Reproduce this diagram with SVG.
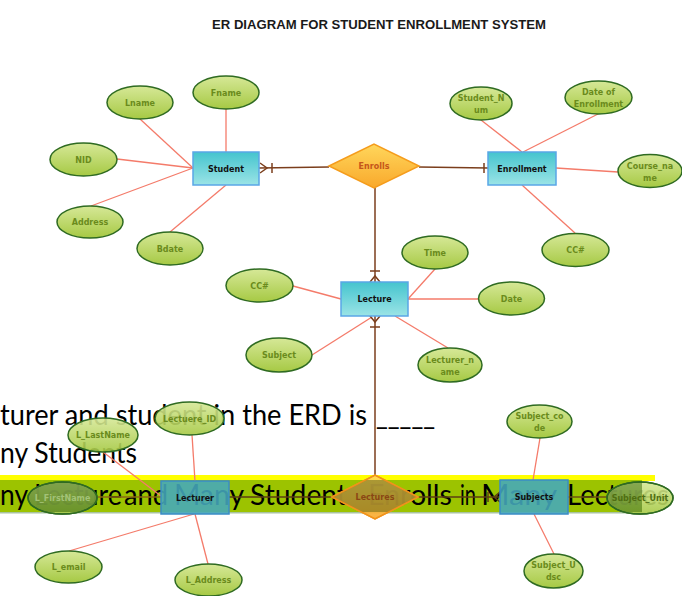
<svg xmlns="http://www.w3.org/2000/svg" width="682" height="596" viewBox="0 0 682 596">
<defs>
<linearGradient id="gEll" x1="0" y1="0" x2="0" y2="1"><stop offset="0" stop-color="#d6e897"/><stop offset="1" stop-color="#a6c944"/></linearGradient>
<linearGradient id="gRect" x1="0" y1="0" x2="0" y2="1"><stop offset="0" stop-color="#45c4ce"/><stop offset="1" stop-color="#9be4e6"/></linearGradient>
<linearGradient id="gDia" x1="0" y1="0" x2="0" y2="1"><stop offset="0" stop-color="#ffd75c"/><stop offset="1" stop-color="#f9a82b"/></linearGradient>
<clipPath id="cFirst"><ellipse cx="62.5" cy="498" rx="34.5" ry="16"/></clipPath>
<clipPath id="cUnit"><ellipse cx="640" cy="498" rx="33" ry="16"/></clipPath>
<clipPath id="cLect"><polygon points="332,497 375,475 418,497 375,519"/></clipPath>
<style>
.ell{fill:url(#gEll);stroke:#2f6b22;stroke-width:1.5}
.rect{fill:url(#gRect);stroke:#5aa6e6;stroke-width:1.5}
.dia{fill:url(#gDia);stroke:#f59c1c;stroke-width:1.5}
.el{font-family:"DejaVu Sans",Verdana,sans-serif;font-weight:bold;font-size:8px;fill:#6a8b1c;text-anchor:middle}
.rl{font-family:"DejaVu Sans",Verdana,sans-serif;font-weight:bold;font-size:8px;fill:#111;text-anchor:middle}
.dl{font-family:"DejaVu Sans",Verdana,sans-serif;font-weight:bold;font-size:8px;fill:#c5561a;text-anchor:middle}
.attr{stroke:#f47b6a;stroke-width:1.3;fill:none}
.rel{stroke:#7b3e1c;stroke-width:1.5;fill:none}
.reld{stroke:#5c3e12;stroke-width:1.5;fill:none}
.slide{font-family:Lato,"Open Sans",sans-serif;font-size:28px;fill:#000}
.fade{fill-opacity:0.9}
.brect{fill:#44a8bd;fill-opacity:0.88;stroke:#3a8cc6;stroke-width:1.5}
</style>
</defs>
<rect x="0" y="0" width="682" height="596" fill="#ffffff"/>
<text x="212" y="29" font-family="Liberation Sans, Arial, sans-serif" font-weight="bold" font-size="13" fill="#1a1a1a" textLength="334" lengthAdjust="spacingAndGlyphs">ER DIAGRAM FOR STUDENT ENROLLMENT SYSTEM</text>

<g id="slide">
<rect x="0" y="475" width="655" height="6" fill="#ffff00"/>
<rect x="0" y="480" width="642" height="32" fill="#9cc300"/>
<rect x="0" y="512" width="642" height="1.5" fill="#a9c3a0"/>
<text class="slide" x="0" y="425" textLength="367" lengthAdjust="spacingAndGlyphs">turer and student in the ERD is</text>
<text class="slide" x="376" y="425" textLength="59" lengthAdjust="spacingAndGlyphs">_____</text>
<text class="slide" x="0" y="463" textLength="137" lengthAdjust="spacingAndGlyphs">ny Students</text>
<text class="slide" x="0" y="505" textLength="28" lengthAdjust="spacingAndGlyphs">ny</text>
<text class="slide" x="34" y="505" textLength="88" lengthAdjust="spacingAndGlyphs">Lecture</text>
<text class="slide" x="124" y="505" textLength="44" lengthAdjust="spacingAndGlyphs">and</text>
<text class="slide" x="174" y="505" textLength="70" lengthAdjust="spacingAndGlyphs">Many</text>
<text class="slide" x="250" y="505" textLength="97" lengthAdjust="spacingAndGlyphs">Student</text>
<text class="slide" x="368" y="505" textLength="84" lengthAdjust="spacingAndGlyphs">Enrolls</text>
<text class="slide" x="460" y="505" textLength="16" lengthAdjust="spacingAndGlyphs">in</text>
<text class="slide" x="481" y="505" textLength="76" lengthAdjust="spacingAndGlyphs">Many</text>
<text class="slide" x="567" y="505" textLength="102" lengthAdjust="spacingAndGlyphs">Lectures</text>
</g>

<g id="connectors">
<line class="attr" x1="226" y1="109" x2="226" y2="152"/>
<line class="attr" x1="140" y1="119" x2="193" y2="168"/>
<line class="attr" x1="117" y1="159" x2="193" y2="168"/>
<line class="attr" x1="91" y1="206" x2="193" y2="168"/>
<line class="attr" x1="170" y1="232" x2="226" y2="185"/>
<line class="attr" x1="481" y1="120" x2="522" y2="152"/>
<line class="attr" x1="598" y1="114" x2="523" y2="152"/>
<line class="attr" x1="556" y1="168" x2="618" y2="172"/>
<line class="attr" x1="522" y1="185" x2="575" y2="233"/>
<line class="attr" x1="435" y1="269" x2="408" y2="299"/>
<line class="attr" x1="408" y1="299" x2="478" y2="299"/>
<line class="attr" x1="293" y1="286" x2="341" y2="299"/>
<line class="attr" x1="312" y1="355" x2="372" y2="317"/>
<line class="attr" x1="395" y1="316" x2="448" y2="348"/>
<line class="attr" x1="192" y1="435" x2="195" y2="481"/>
<line class="attr" x1="103" y1="452" x2="161" y2="496"/>
<line class="attr" x1="194" y1="514" x2="69" y2="551"/>
<line class="attr" x1="195" y1="514" x2="208" y2="564"/>
<line class="attr" x1="540" y1="438" x2="533" y2="480"/>
<line class="attr" x1="534" y1="514" x2="554" y2="554"/>
<line x1="97" y1="497" x2="161" y2="497" stroke="#8c6a12" stroke-width="1.5"/>
<line x1="568" y1="497" x2="607" y2="497" stroke="#6e5512" stroke-width="1.5"/>
<line class="rel" x1="259" y1="168" x2="329" y2="167"/>
<polyline class="rel" points="260,163 267,168 260,173"/>
<line class="rel" x1="272" y1="163" x2="272" y2="173"/>
<line class="rel" x1="419" y1="167" x2="488" y2="168"/>
<line class="rel" x1="484" y1="163" x2="484" y2="173"/>
<line class="rel" x1="375" y1="188" x2="375" y2="282"/>
<line class="rel" x1="370" y1="271" x2="380" y2="271"/>
<polyline class="rel" points="370,282 375,276 380,282"/>
<line class="rel" x1="375" y1="316" x2="375" y2="475"/>
<polyline class="rel" points="370,316 375,322 380,316"/>
<line class="rel" x1="370" y1="327" x2="380" y2="327"/>
<line class="reld" x1="229" y1="497" x2="332" y2="497"/>
<line class="reld" x1="418" y1="497" x2="500" y2="497"/>
<line class="reld" x1="488" y1="492" x2="488" y2="502"/>
<polyline class="reld" points="500,492 494,497 500,502"/>
</g>

<g id="Student"><rect class="rect" x="193" y="152" width="66" height="33"/><text class="rl" x="226" y="171.5">Student</text></g>
<g id="Enrolls"><polygon class="dia" points="329,166 374,144 419,166 374,188"/><text class="dl" x="374" y="169">Enrolls</text></g>
<g id="Enrollment"><rect class="rect" x="488" y="152" width="68" height="33"/><text class="rl" x="522" y="171.5">Enrollment</text></g>
<g id="Lecture"><rect class="rect" x="341" y="282" width="67" height="34"/><text class="rl" x="374.5" y="302">Lecture</text></g>

<g id="Fname"><ellipse class="ell" cx="226" cy="92.5" rx="33" ry="16.5"/><text class="el" x="226" y="95.5">Fname</text></g>
<g id="Lname"><ellipse class="ell" cx="140" cy="102.5" rx="33" ry="16.5"/><text class="el" x="140" y="105.5">Lname</text></g>
<g id="NID"><ellipse class="ell" cx="83.5" cy="159.5" rx="33.5" ry="16.5"/><text class="el" x="83.5" y="162.5">NID</text></g>
<g id="Address"><ellipse class="ell" cx="90" cy="222" rx="33" ry="16"/><text class="el" x="90" y="225">Address</text></g>
<g id="Bdate"><ellipse class="ell" cx="170" cy="248.5" rx="33" ry="16.5"/><text class="el" x="170" y="251.5">Bdate</text></g>
<g id="Student_Num"><ellipse class="ell" cx="481" cy="103.5" rx="31" ry="16.5"/><text class="el" x="481" y="100.5">Student_N</text><text class="el" x="481" y="112.5">um</text></g>
<g id="Date_of_Enrollment"><ellipse class="ell" cx="598.5" cy="97.5" rx="33.5" ry="16.5"/><text class="el" x="598.5" y="94.5">Date of</text><text class="el" x="598.5" y="106.5">Enrollment</text></g>
<g id="Course_name"><ellipse class="ell" cx="650" cy="171" rx="32" ry="16.5"/><text class="el" x="650" y="169">Course_na</text><text class="el" x="650" y="181">me</text></g>
<g id="CC_enrollment"><ellipse class="ell" cx="575.5" cy="250" rx="33.5" ry="16.5"/><text class="el" x="575.5" y="253">CC#</text></g>
<g id="Time"><ellipse class="ell" cx="435" cy="252.5" rx="33" ry="16.5"/><text class="el" x="435" y="255.5">Time</text></g>
<g id="Date"><ellipse class="ell" cx="511.5" cy="298.5" rx="33" ry="16.5"/><text class="el" x="511.5" y="301.5">Date</text></g>
<g id="CC_lecture"><ellipse class="ell" cx="259.5" cy="285.5" rx="33.5" ry="16.5"/><text class="el" x="259.5" y="288.5">CC#</text></g>
<g id="Subject"><ellipse class="ell" cx="279" cy="355" rx="33" ry="17"/><text class="el" x="279" y="358">Subject</text></g>
<g id="Lecturer_name"><ellipse class="ell" cx="450" cy="365" rx="32" ry="17"/><text class="el" x="450" y="362.5">Lecturer_n</text><text class="el" x="450" y="374.5">ame</text></g>

<g id="Lectuere_ID"><ellipse class="ell fade" cx="189.5" cy="418.5" rx="34.5" ry="16.5"/><text class="el" x="189.5" y="421.5">Lectuere_ID</text></g>
<g id="L_LastName"><ellipse class="ell fade" cx="103" cy="435" rx="35" ry="17"/><text class="el" x="103" y="438">L_LastName</text></g>
<g id="L_FirstName"><ellipse class="ell fade" cx="62.5" cy="498" rx="34.5" ry="16"/><rect x="25" y="480" width="76" height="32" fill="#2f6010" fill-opacity="0.5" clip-path="url(#cFirst)"/><ellipse cx="62.5" cy="498" rx="34.5" ry="16" fill="none" stroke="#2f6b22" stroke-width="1.5"/><text class="el" x="62.5" y="501" style="fill:#a3c276">L_FirstName</text></g>
<g id="L_email"><ellipse class="ell" cx="68.5" cy="567" rx="33.5" ry="16"/><text class="el" x="68.5" y="570">L_email</text></g>
<g id="L_Address"><ellipse class="ell" cx="208.5" cy="580" rx="33.5" ry="16"/><text class="el" x="208.5" y="583">L_Address</text></g>
<g id="Lecturer"><rect class="brect" x="161" y="481" width="68" height="33"/><text class="rl" x="195" y="500.5">Lecturer</text></g>
<g id="Lectures"><polygon class="dia fade" points="332,497 375,475 418,497 375,519"/><rect x="330" y="480" width="90" height="32" fill="#6e6a20" fill-opacity="0.55" clip-path="url(#cLect)"/><polygon points="332,497 375,475 418,497 375,519" fill="none" stroke="#f0921c" stroke-width="1.5"/><text class="dl" x="375" y="500" style="fill:#8a4614">Lectures</text></g>
<g id="Subjects"><rect class="brect" x="500" y="480" width="68" height="34"/><text class="rl" x="534" y="500">Subjects</text></g>
<g id="Subject_code"><ellipse class="ell" cx="539.5" cy="421.5" rx="32.5" ry="16.5"/><text class="el" x="539.5" y="419">Subject_co</text><text class="el" x="539.5" y="430.5">de</text></g>
<g id="Subject_Udsc"><ellipse class="ell" cx="553.5" cy="571" rx="29.5" ry="17"/><text class="el" x="553.5" y="568">Subject_U</text><text class="el" x="553.5" y="579.5">dsc</text></g>
<g id="Subject_Unit"><ellipse class="ell fade" cx="640" cy="498" rx="33" ry="16"/><rect x="600" y="480" width="42" height="32" fill="#2f6010" fill-opacity="0.45" clip-path="url(#cUnit)"/><ellipse cx="640" cy="498" rx="33" ry="16" fill="none" stroke="#2f6b22" stroke-width="1.5"/><text class="el" x="640" y="501" style="fill:#4f6e12">Subject_Unit</text></g>
</svg>
